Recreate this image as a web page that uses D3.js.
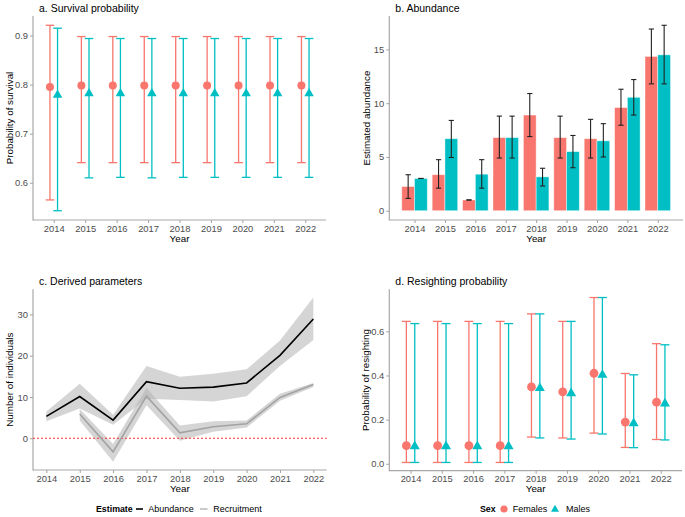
<!DOCTYPE html>
<html><head><meta charset="utf-8">
<script src="https://cdn.jsdelivr.net/npm/d3@7"></script>
<style>body{margin:0;background:#fff;font-family:"Liberation Sans",Arial,sans-serif;}</style>
</head><body><svg id="c" width="685" height="517"></svg>
<script>
const years = [2014,2015,2016,2017,2018,2019,2020,2021,2022];
// a. survival
const survF   = [0.795,0.798,0.798,0.798,0.798,0.798,0.798,0.798,0.798];
const survFLo = [0.565,0.641,0.641,0.641,0.641,0.641,0.641,0.641,0.641];
const survFHi = [0.921,0.898,0.898,0.898,0.898,0.898,0.898,0.898,0.898];
const survM   = [0.780,0.783,0.783,0.783,0.783,0.783,0.783,0.783,0.783];
const survMLo = [0.543,0.610,0.611,0.610,0.611,0.611,0.611,0.611,0.611];
const survMHi = [0.915,0.894,0.894,0.894,0.894,0.894,0.894,0.894,0.894];
// b. abundance
const abF   = [2.25,3.35,1.0,6.8,8.9,6.8,6.7,9.6,14.35];
const abFLo = [1.15,2.1,1.0,4.9,6.9,4.9,4.9,7.95,11.8];
const abFHi = [3.35,4.75,1.0,8.8,10.9,8.8,8.5,11.3,16.9];
const abM   = [3.0,6.7,3.4,6.8,3.15,5.5,6.5,10.55,14.5];
const abMLo = [3.0,4.95,2.1,4.9,2.3,4.0,5.0,8.9,11.8];
const abMHi = [3.0,8.4,4.75,8.8,3.95,7.0,8.1,12.2,17.25];
// c. derived parameters
const abundance   = [5.3,10.1,4.4,13.7,12.1,12.4,13.4,20.1,28.9];
const abundanceLo = [4.1,7.2,3.3,9.6,9.3,8.9,10.2,17.5,23.8];
const abundanceHi = [6.5,13.2,5.7,17.5,14.9,15.6,16.7,23.7,34.1];
const recYears  = [2015,2016,2017,2018,2019,2020,2021,2022];
const recruit   = [5.9,-3.3,10.2,1.3,2.8,3.5,9.9,13.0];
const recruitLo = [4.3,-5.7,8.0,-0.6,1.6,2.6,9.1,12.4];
const recruitHi = [7.1,-1.4,12.2,3.1,4.1,4.3,10.8,13.4];
// d. resighting
const resF   = [0.082,0.082,0.082,0.082,0.348,0.326,0.410,0.189,0.279];
const resFLo = [0.006,0.006,0.006,0.006,0.121,0.117,0.139,0.074,0.110];
const resFHi = [0.645,0.645,0.645,0.645,0.679,0.645,0.753,0.409,0.544];
const resM   = [0.082,0.082,0.082,0.082,0.345,0.322,0.405,0.186,0.275];
const resMLo = [0.006,0.006,0.006,0.006,0.117,0.112,0.135,0.073,0.108];
const resMHi = [0.635,0.635,0.635,0.635,0.679,0.645,0.753,0.403,0.539];

const yTicksA = [0.6,0.7,0.8,0.9];
const yTicksB = [0,5,10,15];
const yTicksC = [0,10,20,30];
const yTicksD = [0.0,0.2,0.4,0.6];

const COLF = "#F8766D", COLM = "#00BFC4";
const svg = d3.select("#c");

function expand(lo, hi){ const s=(hi-lo)*0.05; return [lo-s, hi+s]; }

function frame(p){
  const g = svg.append("g");
  // y axis
  const ya = g.append("g").attr("transform",`translate(${p.l},0)`)
    .call(d3.axisLeft(p.y).tickValues(p.yTicks).tickSize(3).tickPadding(2).tickFormat(p.yFmt));
  // x axis
  const xa = g.append("g").attr("transform",`translate(0,${p.b})`)
    .call(d3.axisBottom(p.x).tickValues(p.xTicks).tickSize(3).tickPadding(2).tickFormat(d3.format("d")));
  [ya,xa].forEach(a=>{
    a.select(".domain").remove();
    a.selectAll(".tick line").attr("stroke","#a0a0a0").attr("stroke-width",1);
    a.selectAll("text").attr("fill","#4d4d4d").style("font-size","9.4px").style("font-family","Liberation Sans, Arial, sans-serif");
  });
  g.append("line").attr("x1",p.l).attr("x2",p.l).attr("y1",p.t).attr("y2",p.b+0.5).attr("stroke","#a8a8a8").attr("stroke-width",1.2);
  g.append("line").attr("x1",p.l).attr("x2",p.r).attr("y1",p.b).attr("y2",p.b).attr("stroke","#a8a8a8").attr("stroke-width",1.2);
  g.append("text").attr("x",p.l+6).attr("y",p.t-4.5).text(p.title)
    .style("font-size","10.5px").attr("fill","#000");
  g.append("text").attr("x",(p.l+p.r)/2).attr("y",p.b+21.5).attr("text-anchor","middle").text("Year")
    .style("font-size","9.8px").attr("fill","#000");
  g.append("text").attr("transform",`translate(${p.ytx},${(p.t+p.b)/2}) rotate(-90)`).attr("text-anchor","middle")
    .text(p.ytitle).style("font-size","9.8px").attr("fill","#000");
  return g;
}

function triPath(cx, cy, s){
  const h = s*0.866;
  return `M${cx},${cy-h*0.6}L${cx+s/2},${cy+h*0.4}L${cx-s/2},${cy+h*0.4}Z`;
}

function pointPanel(p, F, FLo, FHi, M, MLo, MHi, dodge, capW, r, triS){
  const g = frame(p);
  const series = [
    {v:F, lo:FLo, hi:FHi, col:COLF, off:-dodge, shape:"c"},
    {v:M, lo:MLo, hi:MHi, col:COLM, off:dodge, shape:"t"}
  ];
  series.forEach(s=>{
    years.forEach((yr,i)=>{
      const cx = p.x(yr)+s.off;
      g.append("line").attr("x1",cx).attr("x2",cx).attr("y1",p.y(s.lo[i])).attr("y2",p.y(s.hi[i])).attr("stroke",s.col).attr("stroke-width",1.3);
      [s.lo[i],s.hi[i]].forEach(v=>g.append("line").attr("x1",cx-capW/2).attr("x2",cx+capW/2).attr("y1",p.y(v)).attr("y2",p.y(v)).attr("stroke",s.col).attr("stroke-width",1.3));
    });
  });
  series.forEach(s=>{
    years.forEach((yr,i)=>{
      const cx = p.x(yr)+s.off, cy = p.y(s.v[i]);
      if(s.shape==="c") g.append("circle").attr("cx",cx).attr("cy",cy).attr("r",r).attr("fill",s.col);
      else g.append("path").attr("d",triPath(cx,cy,triS)).attr("fill",s.col);
    });
  });
}

// ---- Panel a
{
  const p = {l:33,r:326,t:16,b:220,title:"a. Survival probability",ytitle:"Probability of survival",ytx:13,yTicks:yTicksA,yFmt:d3.format(".1f")};
  p.x = d3.scalePoint().domain(years).range([p.l,p.r]).padding(0.66);
  p.xTicks = years;
  p.y = d3.scaleLinear().domain(expand(d3.min(survMLo.concat(survFLo)), d3.max(survFHi.concat(survMHi)))).range([p.b,p.t]);
  pointPanel(p, survF,survFLo,survFHi, survM,survMLo,survMHi, 3.8, 8.6, 4, 9.5);
}
// ---- Panel b
{
  const p = {l:389.3,r:683,t:16,b:220,title:"b. Abundance",ytitle:"Estimated abundance",ytx:369.5,yTicks:yTicksB,yFmt:d3.format("d")};
  p.x = d3.scalePoint().domain(years).range([p.l,p.r]).padding(0.83);
  p.xTicks = years;
  p.y = d3.scaleLinear().domain(expand(0, d3.max(abMHi.concat(abFHi)))).range([p.b,p.t]);
  const g = frame(p);
  const bw = p.x.step()*0.42;
  const series = [{v:abF,lo:abFLo,hi:abFHi,col:COLF,off:-bw/2},{v:abM,lo:abMLo,hi:abMHi,col:COLM,off:bw/2}];
  series.forEach(s=>years.forEach((yr,i)=>{
    const cx = p.x(yr)+s.off;
    g.append("rect").attr("x",cx-bw/2).attr("width",bw).attr("y",p.y(s.v[i])).attr("height",p.y(0)-p.y(s.v[i]))
      .attr("fill",s.col).attr("stroke","#ffffff").attr("stroke-opacity",0.55).attr("stroke-width",0.8);
  }));
  series.forEach(s=>years.forEach((yr,i)=>{
    const cx = p.x(yr)+s.off;
    g.append("line").attr("x1",cx).attr("x2",cx).attr("y1",p.y(s.lo[i])).attr("y2",p.y(s.hi[i])).attr("stroke","#222").attr("stroke-width",1.1);
    [s.lo[i],s.hi[i]].forEach(v=>g.append("line").attr("x1",cx-2.6).attr("x2",cx+2.6).attr("y1",p.y(v)).attr("y2",p.y(v)).attr("stroke","#222").attr("stroke-width",1.1));
  }));
}
// ---- Panel c
{
  const p = {l:33,r:326.7,t:289.3,b:470,title:"c. Derived parameters",ytitle:"Number of individuals",ytx:13,yTicks:yTicksC,yFmt:d3.format("d")};
  p.x = d3.scaleLinear().domain(expand(2014,2022)).range([p.l,p.r]);
  p.xTicks = years;
  p.y = d3.scaleLinear().domain(expand(d3.min(recruitLo), d3.max(abundanceHi))).range([p.b,p.t]);
  const g = frame(p);
  const area = d3.area().x(d=>p.x(d[0])).y0(d=>p.y(d[1])).y1(d=>p.y(d[2]));
  const line = d3.line().x(d=>p.x(d[0])).y(d=>p.y(d[1]));
  const ab = years.map((y,i)=>[y,abundanceLo[i],abundanceHi[i],abundance[i]]);
  const rc = recYears.map((y,i)=>[y,recruitLo[i],recruitHi[i],recruit[i]]);
  g.append("path").attr("d",area(ab)).attr("fill","#b3b3b3").attr("opacity",0.55);
  g.append("path").attr("d",area(rc)).attr("fill","#b3b3b3").attr("opacity",0.55);
  g.append("line").attr("x1",p.l).attr("x2",p.r).attr("y1",p.y(0)).attr("y2",p.y(0)).attr("stroke","#ff2a2a").attr("stroke-width",1).attr("stroke-dasharray","2,2");
  g.append("path").attr("d",line(rc.map(d=>[d[0],d[3]]))).attr("fill","none").attr("stroke","#a3a3a3").attr("stroke-width",1.6);
  g.append("path").attr("d",line(ab.map(d=>[d[0],d[3]]))).attr("fill","none").attr("stroke","#000").attr("stroke-width",1.6);
  // legend
  const ly = 509;
  const lg = svg.append("g").style("font-size","9px");
  lg.append("text").attr("x",96).attr("y",ly+3.2).text("Estimate").style("font-weight","bold").style("font-size","8.8px");
  lg.append("line").attr("x1",136).attr("x2",143).attr("y1",ly).attr("y2",ly).attr("stroke","#000").attr("stroke-width",1.6);
  lg.append("text").attr("x",148.3).attr("y",ly+3.2).text("Abundance");
  lg.append("line").attr("x1",200).attr("x2",207.5).attr("y1",ly).attr("y2",ly).attr("stroke","#bcbcbc").attr("stroke-width",1.6);
  lg.append("text").attr("x",213.3).attr("y",ly+3.2).text("Recruitment");
}
// ---- Panel d
{
  const p = {l:389.3,r:682,t:289.3,b:470.7,title:"d. Resighting probability",ytitle:"Probability of resighting",ytx:369,yTicks:yTicksD,yFmt:d3.format(".1f")};
  p.x = d3.scalePoint().domain(years).range([p.l,p.r]).padding(0.68);
  p.xTicks = years;
  p.y = d3.scaleLinear().domain(expand(d3.min(resFLo.concat(resMLo)), d3.max(resFHi.concat(resMHi)))).range([p.b,p.t]);
  pointPanel(p, resF,resFLo,resFHi, resM,resMLo,resMHi, 4.2, 9, 4.4, 10);
  const ly = 509;
  const lg = svg.append("g").style("font-size","9px");
  lg.append("text").attr("x",480).attr("y",ly+3.2).text("Sex").style("font-weight","bold").style("font-size","8.8px");
  lg.append("circle").attr("cx",504).attr("cy",ly).attr("r",3.6).attr("fill",COLF);
  lg.append("text").attr("x",512.7).attr("y",ly+3.2).text("Females");
  lg.append("path").attr("d",triPath(555,ly,8)).attr("fill",COLM);
  lg.append("text").attr("x",566).attr("y",ly+3.2).text("Males");
}
</script></body></html>
